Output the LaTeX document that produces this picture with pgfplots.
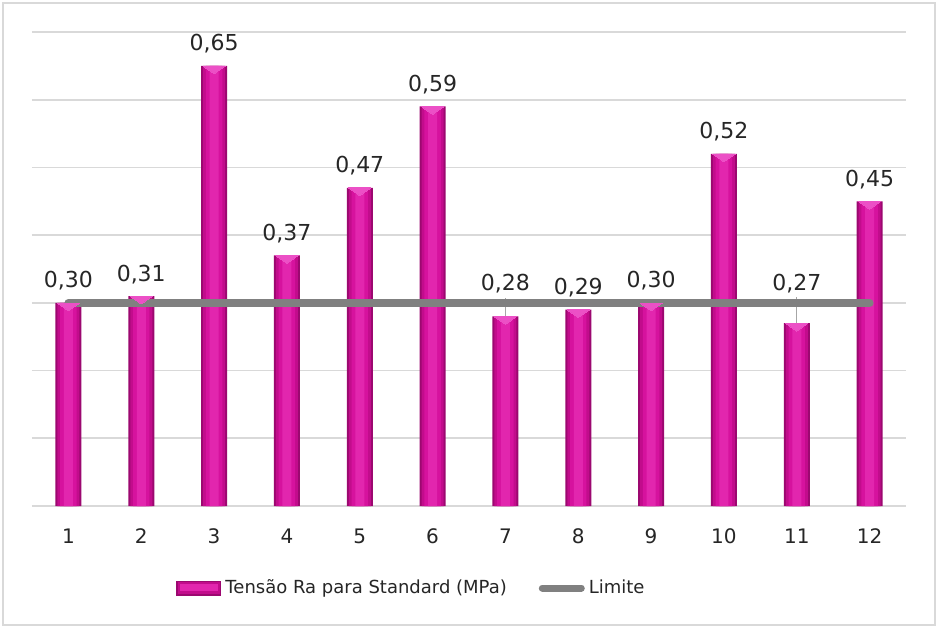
\documentclass[border=0pt]{standalone}
\usepackage{pgfplots}
\pgfplotsset{compat=1.18}
\usepackage{pgfplotstable}
\usepackage{fontspec}
\setmainfont{DejaVu Sans}
\definecolor{barA}{HTML}{9C0870}
\definecolor{barB}{HTML}{C20C8C}
\definecolor{barC}{HTML}{D6129E}
\definecolor{barD}{HTML}{E226AE}
\definecolor{bevel}{HTML}{EC50C6}
\definecolor{gridc}{HTML}{D9D9D9}
\definecolor{limc}{HTML}{808080}
\definecolor{txt}{HTML}{262626}
\definecolor{leadc}{HTML}{A6A6A6}

\pgfplotstableread{
x y s
1 0.30 0
2 0.31 0
3 0.65 0
4 0.37 0
5 0.47 0
6 0.59 0
7 0.28 5.5
8 0.29 0
9 0.30 0
10 0.52 0
11 0.27 9
12 0.45 0
}\datatable

\begin{document}
\begin{tikzpicture}
\useasboundingbox (0,0) rectangle (470pt,314pt);
\draw[gridc, line width=1pt] (1.5pt,1.5pt) rectangle (467.5pt,312.5pt);
\begin{axis}[
  at={(16pt,61pt)}, anchor=south west,
  scale only axis, width=437pt, height=237pt,
  xmin=0.5, xmax=12.5, ymin=0, ymax=0.7,
  xtick={1,...,12}, ytick={0,0.1,...,0.7}, yticklabels={},
  ymajorgrids, grid style={gridc, line width=0.8pt},
  axis line style={draw=none}, major tick length=0pt,
  /pgf/number format/assume math mode=true,
  tick label style={font=\fontsize{10}{12}\selectfont, text=txt},
  xticklabel style={yshift=-8pt},
  legend columns=2,
  legend style={at={(0.158,-0.173)}, anchor=west, draw=none,
    font=\fontsize{9}{11}\selectfont, text=txt,
    /tikz/every even column/.append style={column sep=14pt}},
]
\addplot[ybar, bar width=13pt, bar shift=0pt, draw=none, fill=barA,
  legend image code/.code={
    \fill[barA] (0pt,-3.75pt) rectangle (22.5pt,3.75pt);
    \fill[barB] (0.8pt,-3pt) rectangle (21.7pt,3pt);
    \fill[barD] (1.6pt,-1.6pt) rectangle (20.9pt,2.2pt);}
] table[x=x,y=y] {\datatable};
\addlegendentry{Tensão Ra para Standard (MPa)}
\addplot[ybar, bar width=11pt, bar shift=0pt, draw=none, fill=barB, forget plot]
  table[x=x,y=y] {\datatable};
\addplot[ybar, bar width=8.2pt, bar shift=0pt, draw=none, fill=barC, forget plot]
  table[x=x,y=y] {\datatable};
\addplot[ybar, bar width=4.5pt, bar shift=0pt, draw=none, fill=barD, forget plot,
  visualization depends on={\thisrow{s} \as \labelshift},
  nodes near coords={\pgfmathprintnumber[fixed, fixed zerofill, precision=2, use comma, assume math mode=true]{\pgfplotspointmeta}},
  every node near coord/.append style={anchor=base, yshift=7.5pt+\labelshift*1pt,
    font=\fontsize{11}{13}\selectfont, text=txt}
] table[x=x,y=y] {\datatable};
\addplot[only marks, forget plot, color=bevel, mark=triangle*, mark size=6.4pt,
  mark options={draw=bevel, fill=bevel, line width=0pt, yshift=-1.35pt, yscale=-0.4}
] table[x=x,y=y] {\datatable};
\addplot[draw=none, forget plot, mark=none,
  error bars/.cd, y dir=plus, y explicit, error mark=none,
  error bar style={color=leadc, line width=0.6pt}]
  coordinates {(7,0.28) +- (0,0.0266) (11,0.27) +- (0,0.0384)};
\addplot[limc, line width=4pt, line cap=round, mark=none,
  legend image code/.code={\draw[limc, line width=3.5pt, line cap=round] (1.75pt,0pt) -- (21.25pt,0pt);}]
  coordinates {(1,0.3) (12,0.3)};
\addlegendentry{Limite}
\end{axis}
\end{tikzpicture}
\end{document}
